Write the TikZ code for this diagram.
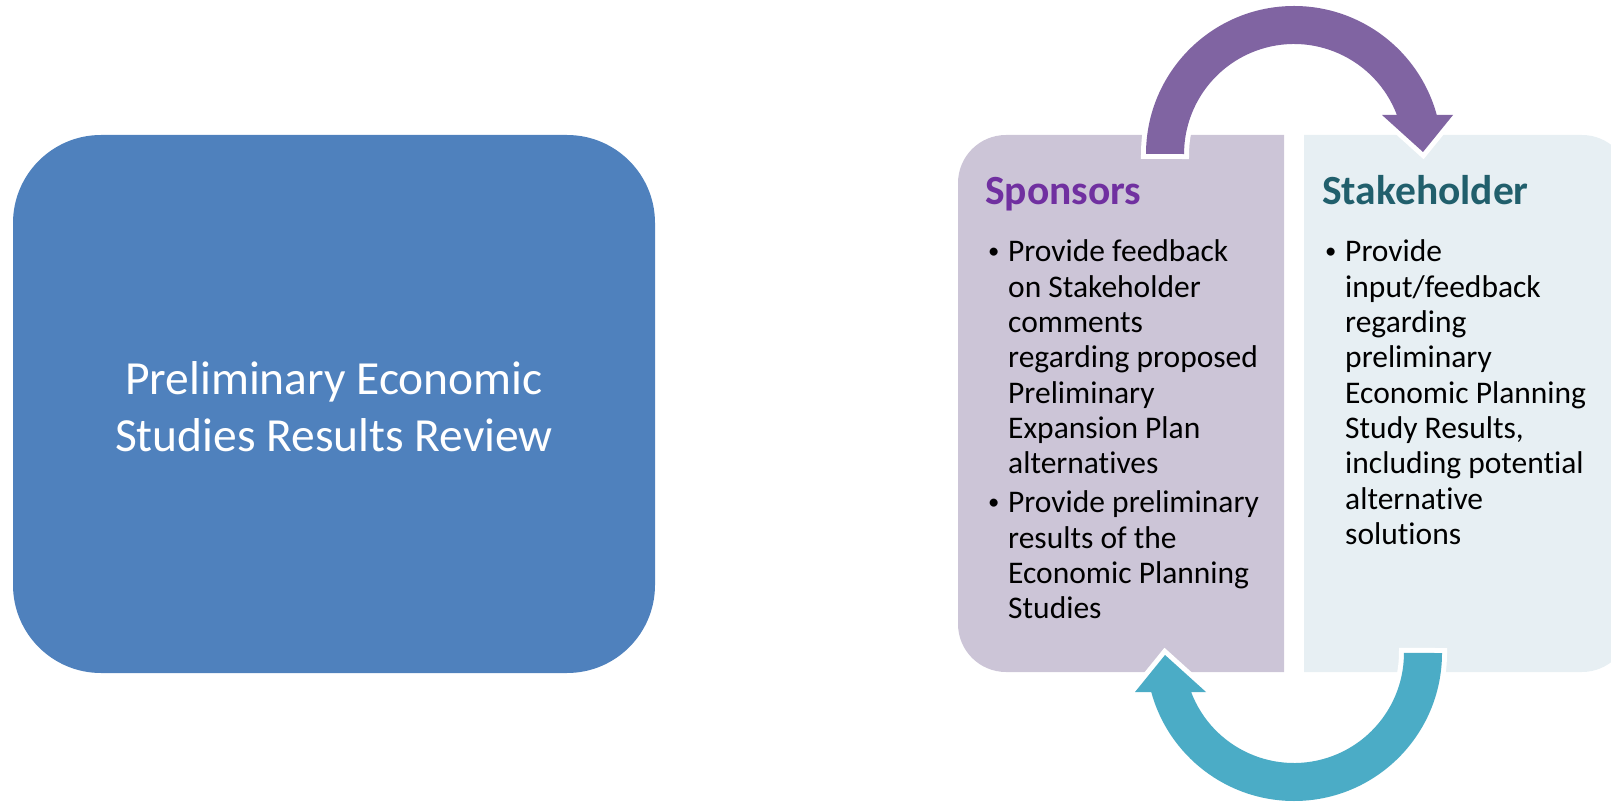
\documentclass[tikz,border=0pt]{standalone}
\usepackage{fontspec}
\setmainfont{Carlito}[Ligatures=NoCommon]
\definecolor{mainblue}{HTML}{4F81BD}
\definecolor{sponsorfill}{HTML}{CCC5D7}
\definecolor{stakefill}{HTML}{E7EFF3}
\definecolor{arrowpurple}{HTML}{8064A2}
\definecolor{arrowteal}{HTML}{4BACC6}
\definecolor{sponsorhead}{HTML}{7030A0}
\definecolor{stakehead}{HTML}{215F6C}
\newcommand\bulletmark{\makebox[20pt][l]{\raisebox{3pt}{\scalebox{0.72}{\textbullet}}}}
\begin{document}
\begin{tikzpicture}[x=1pt,y=1pt,
  mainbox/.style={fill=mainblue, rounded corners=88pt, minimum width=642pt, minimum height=538pt, inner sep=0pt},
  maintext/.style={align=center, text=white, font=\fontsize{47.5}{57}\selectfont, inner sep=0pt},
  headtext/.style={anchor=base west, inner sep=0pt, font=\fontsize{41.5}{49}\selectfont\bfseries},
  bodytext/.style={anchor=base west, inner sep=0pt, text=black, font=\fontsize{31.5}{35.3}\selectfont},
  cyclearrow/.style={preaction={draw=white, line width=10pt, line join=miter}}]
\useasboundingbox (0,0) rectangle (1611,801);

% left box
\node[mainbox] (review) at (334,397) {};
\node[maintext] (reviewtext) at ([yshift=-3pt]review.center) {Preliminary Economic\\Studies Results Review};

% panels
\fill[sponsorfill] (1284,129) -- (1284,666) -- (1006,666) arc[start angle=90,end angle=180,radius=48]
  -- (958,177) arc[start angle=180,end angle=270,radius=48] -- cycle;
\fill[stakefill] (1304,129) -- (1304,666) -- (1582,666) arc[start angle=90,end angle=0,radius=48]
  -- (1630,177) arc[start angle=0,end angle=-90,radius=48] -- cycle;

% arrows
\path[cyclearrow, fill=arrowpurple] (1146,647) arc[start angle=180,end angle=15.28,radius=148]
  -- (1453,686) -- (1423,649) -- (1382,686) -- (1396.9,686)
  arc[start angle=20.77,end angle=180,radius=110] -- cycle;
\path[cyclearrow, fill=arrowteal] (1442,148) arc[start angle=0,end angle=-164.72,radius=148]
  -- (1135,109) -- (1165,146) -- (1206,109) -- (1191.1,109)
  arc[start angle=-159.23,end angle=0,radius=110] -- cycle;

% texts
\node[headtext, text=sponsorhead] (sponsors) at (985,596) {Sponsors};
\node[bodytext] (sponsorsbody) at (988,539) {\begin{tabular}[t]{@{}l@{}l@{}}
\bulletmark & Provide feedback\\
 & on Stakeholder\\
 & comments\\
 & regarding proposed\\
 & Preliminary\\
 & Expansion Plan\\
 & alternatives\\[3.7pt]
\bulletmark & Provide preliminary\\
 & results of the\\
 & Economic Planning\\
 & Studies
\end{tabular}};

\node[headtext, text=stakehead] (stakeholder) at (1322,596) {Stakeholder};
\node[bodytext] (stakeholderbody) at (1325,539) {\begin{tabular}[t]{@{}l@{}l@{}}
\bulletmark & Provide\\
 & input/feedback\\
 & regarding\\
 & preliminary\\
 & Economic Planning\\
 & Study Results,\\
 & including potential\\
 & alternative\\
 & solutions
\end{tabular}};
\end{tikzpicture}
\end{document}
